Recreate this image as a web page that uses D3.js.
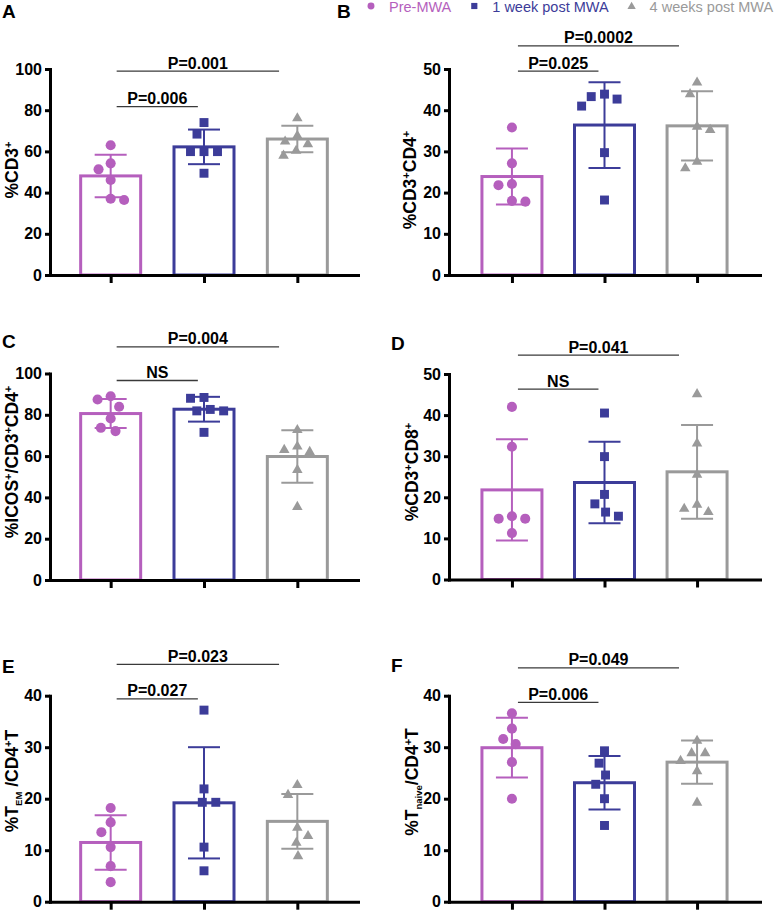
<!DOCTYPE html>
<html>
<head>
<meta charset="utf-8">
<script src="https://cdn.jsdelivr.net/npm/d3@7"></script>
<style>
  html, body { margin: 0; padding: 0; background: #ffffff; }
  svg { display: block; font-family: "Liberation Sans", Arial, Helvetica, sans-serif; }
</style>
</head>
<body>
<script>
// ---------------- DATA ----------------
const groups = ["Pre-MWA", "1 week post MWA", "4 weeks post MWA"];
const groupColors = ["#b55fbd", "#3c3c99", "#9a9a9a"];

// Panel A: %CD3+
const ticksA = [0, 20, 40, 60, 80, 100];
const meansA = [48.1, 62.2, 66.0];
const sdA = [10.3, 8.4, 6.4];
const pointsA = [
  [63.0, 54.2, 51.3, 46.1, 37.0, 36.4],
  [74.0, 68.4, 59.9, 59.9, 59.9, 49.4],
  [76.5, 68.0, 65.2, 63.9, 60.7, 58.3]
];
const compsA = [
  { from: 0, to: 1, label: "P=0.006", at: 81.7 },
  { from: 0, to: 2, label: "P=0.001", at: 99.0 }
];

// Panel B: %CD3+CD4+
const ticksB = [0, 10, 20, 30, 40, 50];
const meansB = [23.9, 36.4, 36.2];
const sdB = [6.8, 10.4, 8.4];
const pointsB = [
  [35.8, 27.1, 22.1, 21.8, 18.0, 17.8],
  [43.9, 43.3, 42.7, 41.0, 29.7, 18.2],
  [46.9, 44.1, 36.2, 35.4, 27.7, 26.1]
];
const compsB = [
  { from: 0, to: 1, label: "P=0.025", at: 49.5 },
  { from: 0, to: 2, label: "P=0.0002", at: 55.6 }
];

// Panel C: %ICOS+/CD3+CD4+
const ticksC = [0, 20, 40, 60, 80, 100];
const meansC = [80.6, 82.7, 59.8];
const sdC = [7.0, 6.0, 12.7];
const pointsC = [
  [89.0, 87.4, 83.9, 78.2, 73.7, 72.1],
  [88.4, 88.0, 82.6, 81.9, 81.9, 71.5],
  [73.0, 65.0, 63.4, 62.4, 53.7, 35.8]
];
const compsC = [
  { from: 0, to: 1, label: "NS", at: 96.6 },
  { from: 0, to: 2, label: "P=0.004", at: 112.9 }
];

// Panel D: %CD3+CD8+
const ticksD = [0, 10, 20, 30, 40, 50];
const meansD = [21.8, 23.6, 26.2];
const sdD = [12.3, 9.9, 11.4];
const pointsD = [
  [42.0, 32.3, 15.4, 14.8, 14.8, 11.3],
  [40.5, 29.9, 20.7, 18.4, 16.4, 15.4],
  [45.3, 33.3, 25.7, 18.4, 17.4, 16.6]
];
const compsD = [
  { from: 0, to: 1, label: "NS", at: 46.3 },
  { from: 0, to: 2, label: "P=0.041", at: 54.6 }
];

// Panel E: %T_EM/CD4+T
const ticksE = [0, 10, 20, 30, 40];
const meansE = [11.5, 19.2, 15.6];
const sdE = [5.3, 10.8, 5.3];
const pointsE = [
  [18.2, 15.4, 13.5, 10.6, 6.9, 3.8],
  [37.2, 21.9, 19.3, 19.3, 10.6, 6.0],
  [22.8, 20.9, 14.5, 12.9, 11.6, 9.0]
];
const compsE = [
  { from: 0, to: 1, label: "P=0.027", at: 39.4 },
  { from: 0, to: 2, label: "P=0.023", at: 46.1 }
];

// Panel F: %T_naive/CD4+T
const ticksF = [0, 10, 20, 30, 40];
const meansF = [29.9, 23.1, 27.1];
const sdF = [5.8, 5.2, 4.2];
const pointsF = [
  [36.6, 33.6, 31.6, 30.6, 27.1, 20.0],
  [29.3, 26.9, 24.6, 22.8, 20.0, 14.8],
  [31.4, 29.0, 29.0, 27.5, 25.5, 19.4]
];
const compsF = [
  { from: 0, to: 1, label: "P=0.006", at: 38.7 },
  { from: 0, to: 2, label: "P=0.049", at: 45.4 }
];

// axis titles as text segments (sup / sub)
const titleA = [{ t: "%CD3" }, { t: "+", s: "sup" }];
const titleB = [{ t: "%CD3" }, { t: "+", s: "sup" }, { t: "CD4" }, { t: "+", s: "sup" }];
const titleC = [{ t: "%ICOS" }, { t: "+", s: "sup" }, { t: "/CD3" }, { t: "+", s: "sup" }, { t: "CD4" }, { t: "+", s: "sup" }];
const titleD = [{ t: "%CD3" }, { t: "+", s: "sup" }, { t: "CD8" }, { t: "+", s: "sup" }];
const titleE = [{ t: "%T" }, { t: "EM", s: "sub" }, { t: " /CD4" }, { t: "+", s: "sup" }, { t: "T" }];
const titleF = [{ t: "%T" }, { t: "naive", s: "sub" }, { t: "/CD4" }, { t: "+", s: "sup" }, { t: "T" }];

// ---------------- LAYOUT ----------------
const LEFT = { x0: 50, w: 308, pad: 0.65 };
const RIGHT = { x0: 449, w: 311, pad: 0.68 };
const panels = [
  { letter: "A", ticks: ticksA, means: meansA, sd: sdA, points: pointsA, comps: compsA, title: titleA,
    side: LEFT, yTop: 69, yBot: 275, letterX: 2, letterY: 18, titleX: 18, titleY: 170 },
  { letter: "B", ticks: ticksB, means: meansB, sd: sdB, points: pointsB, comps: compsB, title: titleB,
    side: RIGHT, yTop: 69, yBot: 275, letterX: 337, letterY: 18, titleX: 416, titleY: 180 },
  { letter: "C", ticks: ticksC, means: meansC, sd: sdC, points: pointsC, comps: compsC, title: titleC,
    side: LEFT, yTop: 373.5, yBot: 580, letterX: 2, letterY: 348, titleX: 18, titleY: 462 },
  { letter: "D", ticks: ticksD, means: meansD, sd: sdD, points: pointsD, comps: compsD, title: titleD,
    side: RIGHT, yTop: 374, yBot: 579.5, letterX: 391, letterY: 350, titleX: 418, titleY: 472 },
  { letter: "E", ticks: ticksE, means: meansE, sd: sdE, points: pointsE, comps: compsE, title: titleE,
    side: LEFT, yTop: 695.7, yBot: 901.7, letterX: 2, letterY: 673, titleX: 18, titleY: 781 },
  { letter: "F", ticks: ticksF, means: meansF, sd: sdF, points: pointsF, comps: compsF, title: titleF,
    side: RIGHT, yTop: 695.7, yBot: 901.7, letterX: 391, letterY: 672, titleX: 418, titleY: 782 }
];

const symbols = [d3.symbolCircle, d3.symbolSquare, d3.symbolTriangle];
const symbolSizes = [80, 80, 48];
const W = 779, H = 911;
const svg = d3.select("body").append("svg").attr("width", W).attr("height", H);

// simple beeswarm: x offsets so markers don't crowd each other
function swarm(vals, y, d) {
  const placed = [];
  vals.forEach(v => {
    const py = y(v);
    const cands = [0];
    placed.forEach(p => {
      const dy = Math.abs(p.y - py);
      if (dy < d) {
        const dx = Math.sqrt(d * d - dy * dy);
        cands.push(p.x + dx, p.x - dx);
      }
    });
    const leftCount = placed.filter(p => p.x < -0.1).length;
    const rightCount = placed.filter(p => p.x > 0.1).length;
    cands.sort((a, b) => {
      const da = Math.abs(a) - Math.abs(b);
      if (Math.abs(da) > 0.01) return da;
      return leftCount <= rightCount ? a - b : b - a;
    });
    const ok = cands.find(c => placed.every(p => (c - p.x) ** 2 + (py - p.y) ** 2 >= d * d - 0.01));
    placed.push({ x: ok, y: py });
  });
  return placed.map(p => p.x);
}

panels.forEach(P => {
  const g = svg.append("g").attr("transform", `translate(${P.side.x0},0)`);
  const y = d3.scaleLinear().domain([0, d3.max(P.ticks)]).range([P.yBot, P.yTop]);
  const x = d3.scalePoint().domain(groups).range([0, P.side.w]).padding(P.side.pad);
  const barW = 60;

  // bars
  g.selectAll("rect.bar").data(groups).join("rect")
    .attr("class", "bar")
    .attr("x", d => x(d) - barW / 2)
    .attr("y", (d, i) => y(P.means[i]))
    .attr("width", barW)
    .attr("height", (d, i) => y(0) - y(P.means[i]))
    .attr("fill", "#fff")
    .attr("stroke", (d, i) => groupColors[i])
    .attr("stroke-width", 3);

  // error bars (mean ± SD)
  groups.forEach((gr, i) => {
    const cx = x(gr);
    const hi = y(P.means[i] + P.sd[i]);
    const lo = y(P.means[i] - P.sd[i]);
    const eb = g.append("g").attr("stroke", groupColors[i]).attr("stroke-width", 2);
    eb.append("line").attr("x1", cx).attr("x2", cx).attr("y1", hi).attr("y2", lo);
    eb.append("line").attr("x1", cx - 16).attr("x2", cx + 16).attr("y1", hi).attr("y2", hi);
    eb.append("line").attr("x1", cx - 16).attr("x2", cx + 16).attr("y1", lo).attr("y2", lo);
  });

  // points
  groups.forEach((gr, i) => {
    const offs = swarm(P.points[i], y, 13.5);
    g.selectAll(null).data(P.points[i]).join("path")
      .attr("d", d3.symbol().type(symbols[i]).size(symbolSizes[i]))
      .attr("transform", (v, k) => `translate(${x(gr) + offs[k]},${y(v) + (i === 2 ? 0.8 : 0)})`)
      .attr("fill", groupColors[i]);
  });

  // y axis
  const ya = g.append("g").call(
    d3.axisLeft(y).tickValues(P.ticks).tickSize(5).tickSizeOuter(0).tickPadding(3)
  );
  ya.select(".domain").attr("stroke", "#000").attr("stroke-width", 3).attr("stroke-linecap", "square");
  ya.selectAll(".tick line").attr("stroke", "#000").attr("stroke-width", 3);
  ya.selectAll(".tick text").attr("fill", "#000")
    .style("font-size", "16px").style("font-weight", "bold")
    .style("font-family", '"Liberation Sans", Arial, sans-serif');

  // x axis
  const xa = g.append("g").attr("transform", `translate(0,${y(0)})`).call(
    d3.axisBottom(x).tickSize(8).tickSizeOuter(0).tickFormat("")
  );
  xa.select(".domain").attr("stroke", "#000").attr("stroke-width", 3).attr("stroke-linecap", "square");
  xa.selectAll(".tick line").attr("stroke", "#000").attr("stroke-width", 3);

  // comparison brackets
  P.comps.forEach(c => {
    const xs = x(groups[c.from]) + 6;
    const xe = xs + 0.87 * (x(groups[c.to]) - x(groups[c.from]));
    const yy = y(c.at);
    g.append("line").attr("x1", xs).attr("x2", xe).attr("y1", yy).attr("y2", yy)
      .attr("stroke", "#3a3a3a").attr("stroke-width", 1.3);
    g.append("text").attr("x", (xs + xe) / 2).attr("y", yy - 2.5)
      .attr("text-anchor", "middle")
      .style("font-size", "16px").style("font-weight", "bold").attr("fill", "#000")
      .text(c.label);
  });

  // panel letter
  svg.append("text").attr("x", P.letterX).attr("y", P.letterY)
    .style("font-size", "19px").style("font-weight", "bold").attr("fill", "#000")
    .text(P.letter);

  // y-axis title
  const tt = svg.append("text")
    .attr("transform", `translate(${P.titleX},${P.titleY}) rotate(-90)`)
    .attr("text-anchor", "middle")
    .style("font-size", "17.5px").style("font-weight", "bold").attr("fill", "#000");
  let shift = 0;
  P.title.forEach(seg => {
    const ts = tt.append("tspan").text(seg.t);
    let target = 0, fs = null;
    if (seg.s === "sup") { target = -6.5; fs = "11px"; }
    if (seg.s === "sub") { target = 4; fs = "9.5px"; }
    ts.attr("dy", target - shift);
    if (fs) ts.style("font-size", fs);
    shift = target;
  });
});

// ---------------- LEGEND ----------------
const legend = svg.append("g");
let lx = 371;
const legSizes = [38, 38, 30];
groups.forEach((gr, i) => {
  legend.append("path")
    .attr("d", d3.symbol().type(symbols[i]).size(legSizes[i]))
    .attr("transform", `translate(${lx},${i === 2 ? 6.5 : 6})`)
    .attr("fill", groupColors[i]);
  const t = legend.append("text").attr("x", lx + 18).attr("y", 11.5)
    .style("font-size", "14.5px").attr("fill", groupColors[i]).text(gr);
  lx = lx + 18 + t.node().getComputedTextLength() + 23;
});
</script>
</body>
</html>
